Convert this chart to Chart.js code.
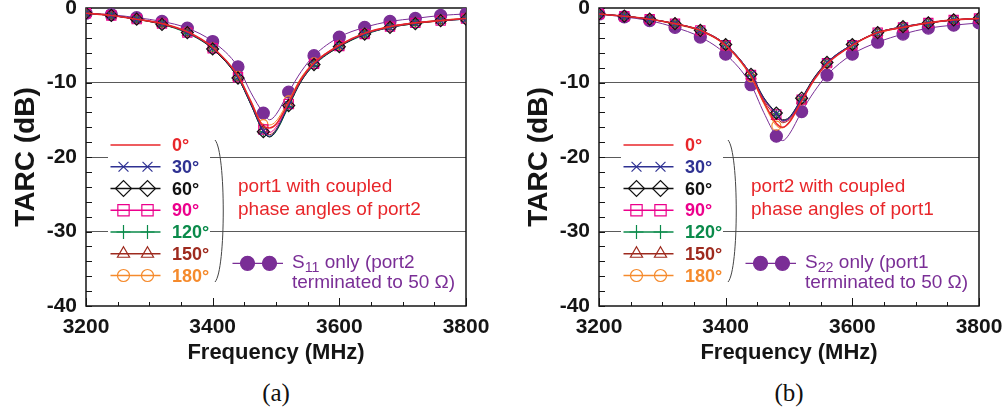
<!DOCTYPE html>
<html>
<head>
<meta charset="utf-8">
<script src="https://cdn.jsdelivr.net/npm/chart.js@4.4.1/dist/chart.umd.min.js"></script>
<style>
  body { margin:0; background:#fff; width:1007px; height:410px; overflow:hidden; position:relative;
         font-family:'Liberation Sans', Arial, sans-serif; }
  .panel { position:absolute; top:0; width:494px; height:370px; }
  .panel canvas { position:absolute; left:0; top:0; }
  .lab { position:absolute; left:172px; font-weight:bold; font-size:18px; line-height:18px;
         transform:translateY(-50%); white-space:nowrap; }
  .note { position:absolute; font-size:19px; line-height:23px; white-space:nowrap; color:#e8262a; }
  .only { position:absolute; font-size:19px; line-height:20px; white-space:nowrap; color:#7a2e96; }
  .only sub { font-size:0.75em; line-height:0; vertical-align:-0.3em; }
  .cap { position:absolute; top:379px; width:60px; text-align:center;
         font-family:'Liberation Serif', 'Times New Roman', serif; font-size:25px; color:#111; }
</style>
</head>
<body>
<div class="panel" id="pa" style="left:0"><canvas id="chartA" width="494" height="370"></canvas></div>
<div class="panel" id="pb" style="left:513px"><canvas id="chartB" width="494" height="370"></canvas></div>
<div class="cap" style="left:246px">(a)</div>
<div class="cap" style="left:759px">(b)</div>

<script>
// ── data ───────────────────────────────────────────────────
const freq = [3200, 3240, 3280, 3320, 3360, 3400, 3440, 3460, 3480, 3490,
              3500, 3520, 3540, 3560, 3600, 3640, 3680, 3720, 3760, 3800];
const phaseLabels = ['0°', '30°', '60°', '90°', '120°', '150°', '180°'];
const xLabelTicks = [3200, 3400, 3600, 3800];
const yLabelTicks = [0, -10, -20, -30, -40];

// (a) port1, coupled phase angles of port2
const a0   = [-0.7,-1.0,-1.5,-2.1,-3.2,-5.3,-9.1,-12.5,-15.9,-16.1,-15.6,-12.7,-9.5,-7.4,-5.0,-3.4,-2.5,-2.0,-1.7,-1.4];
const a30  = [-0.7,-1.0,-1.5,-2.1,-3.3,-5.4,-9.3,-12.8,-16.5,-17.2,-16.4,-13.0,-9.7,-7.6,-5.1,-3.5,-2.6,-2.0,-1.7,-1.5];
const a60  = [-0.7,-1.0,-1.5,-2.2,-3.3,-5.5,-9.4,-12.9,-16.6,-17.3,-16.5,-13.1,-9.8,-7.6,-5.2,-3.5,-2.6,-2.1,-1.7,-1.5];
const a90  = [-0.7,-1.0,-1.5,-2.1,-3.3,-5.4,-9.3,-12.7,-16.3,-16.7,-16.0,-12.9,-9.6,-7.5,-5.1,-3.5,-2.5,-2.0,-1.7,-1.4];
const a120 = [-0.7,-1.0,-1.5,-2.2,-3.4,-5.5,-9.4,-12.9,-16.6,-17.3,-16.6,-13.2,-9.8,-7.7,-5.2,-3.6,-2.6,-2.1,-1.7,-1.5];
const a150 = [-0.7,-1.0,-1.5,-2.1,-3.3,-5.4,-9.3,-12.8,-16.4,-17.0,-16.3,-13.0,-9.6,-7.5,-5.1,-3.5,-2.5,-2.0,-1.7,-1.4];
const a180 = [-0.7,-1.0,-1.5,-2.1,-3.2,-5.3,-9.1,-12.4,-15.6,-15.7,-15.2,-12.4,-9.3,-7.3,-5.0,-3.4,-2.5,-2.0,-1.6,-1.4];
const s11  = [-0.7,-0.9,-1.3,-1.8,-2.7,-4.5,-7.9,-11.3,-14.1,-15.0,-14.3,-11.3,-8.5,-6.4,-3.9,-2.6,-1.8,-1.4,-1.0,-0.8];

// (b) port2, coupled phase angles of port1
const b0   = [-0.8,-1.1,-1.5,-2.1,-3.0,-5.0,-9.1,-12.6,-15.5,-16.0,-15.4,-12.5,-9.6,-7.5,-5.0,-3.3,-2.6,-2.0,-1.6,-1.4];
const b30  = [-0.8,-1.1,-1.5,-2.1,-3.0,-4.9,-8.9,-12.1,-14.2,-15.1,-14.8,-12.2,-9.4,-7.3,-4.9,-3.3,-2.5,-2.0,-1.6,-1.4];
const b60  = [-0.8,-1.1,-1.5,-2.1,-3.0,-4.9,-8.9,-12.0,-14.1,-15.0,-14.7,-12.1,-9.3,-7.3,-4.9,-3.3,-2.5,-2.0,-1.6,-1.4];
const b90  = [-0.8,-1.1,-1.5,-2.1,-3.0,-5.0,-9.0,-12.2,-14.3,-15.2,-14.9,-12.3,-9.4,-7.4,-5.0,-3.3,-2.6,-2.0,-1.6,-1.4];
const b120 = [-0.8,-1.1,-1.5,-2.1,-3.0,-5.0,-9.0,-12.2,-14.2,-15.2,-14.8,-12.2,-9.4,-7.4,-5.0,-3.3,-2.6,-2.0,-1.6,-1.4];
const b150 = [-0.8,-1.1,-1.5,-2.1,-3.1,-5.0,-9.1,-12.4,-14.6,-15.4,-15.0,-12.4,-9.5,-7.4,-5.0,-3.3,-2.6,-2.0,-1.6,-1.4];
const b180 = [-0.8,-1.1,-1.5,-2.2,-3.1,-5.1,-9.3,-12.8,-15.8,-16.1,-15.3,-12.4,-9.5,-7.5,-5.0,-3.4,-2.6,-2.0,-1.6,-1.4];
const s22  = [-0.8,-1.2,-1.7,-2.6,-3.9,-6.2,-10.3,-14.0,-17.2,-17.8,-17.0,-13.9,-11.2,-9.0,-6.2,-4.6,-3.5,-2.7,-2.3,-2.0];

// ── styles ─────────────────────────────────────────────────
const FONT = "'Liberation Sans', Arial, sans-serif";
const INK = '#151515';
const PURPLE = '#7a2e96';
// r = marker radius on the curve, lr = radius in the legend
const phaseStyles = [
  { color:'#e8262a', style:false,      r:0,   lr:0, w:1.6 },
  { color:'#2e3192', style:'crossRot', r:5,   lr:7, w:1 },
  { color:'#111111', style:'rectRot',  r:6,   lr:8, w:1 },
  { color:'#ec008c', style:'rect',     r:6.5, lr:8, w:1 },
  { color:'#0a8a4a', style:'cross',    r:5,   lr:7, w:1 },
  { color:'#9e2a1e', style:'triangle', r:5.5, lr:7, w:1 },
  { color:'#f58a2c', style:'circle',   r:4.5, lr:6, w:1 },
];
const onlyStyle = { color:PURPLE, style:'circle', r:6, lr:7, w:1 };

function dataset(label, vals, st, filled) {
  return {
    label,
    data: freq.map((f, k) => ({ x: f, y: vals[k] })),
    borderColor: st.color,
    borderWidth: st.w,
    pointStyle: st.style || 'circle',
    pointRadius: c => (st.r && freq[c.dataIndex] % 40 === 0) ? st.r : 0,
    pointBorderColor: st.color,
    pointBackgroundColor: filled ? st.color : 'rgba(0,0,0,0)',
    pointBorderWidth: 1.2,
    cubicInterpolationMode: 'monotone',
    fill: false,
  };
}

// ── frame + inward tick marks ──────────────────────────────
const framePlugin = {
  id: 'frame',
  beforeDatasetsDraw(chart) {
    const { ctx, chartArea: a, scales: { x, y } } = chart;
    ctx.save();
    ctx.strokeStyle = INK;
    ctx.lineWidth = 1;
    ctx.beginPath();
    y.ticks.forEach(t => {
      const py = Math.round(y.getPixelForValue(t.value)) + 0.5;
      ctx.moveTo(a.left, py); ctx.lineTo(a.left + 6, py);
    });
    x.ticks.forEach(t => {
      const px = Math.round(x.getPixelForValue(t.value)) + 0.5;
      const len = xLabelTicks.includes(t.value) ? 8 : 4;
      ctx.moveTo(px, a.bottom); ctx.lineTo(px, a.bottom - len);
    });
    ctx.stroke();
    ctx.lineWidth = 1.5;
    ctx.strokeRect(a.left, a.top, a.right - a.left, a.bottom - a.top);
    ctx.restore();
  }
};

// ── legend samples (lines + markers), drawn with Chart's own point helper ──
function marker(ctx, st, x, y, filled) {
  ctx.strokeStyle = st.color;
  ctx.fillStyle = filled ? st.color : 'rgba(0,0,0,0)';
  ctx.lineWidth = 1.2;
  Chart.helpers.drawPoint(ctx, { pointStyle: st.style, radius: st.lr, rotation: 0, borderWidth: 1.2 }, x, y);
}

const legendPlugin = {
  id: 'phaseLegend',
  afterDraw(chart) {
    const { ctx, chartArea: a } = chart;
    const L = a.left;
    ctx.save();
    ctx.fillStyle = '#fff';
    ctx.fillRect(L + 22, 133, 102, 154);

    phaseStyles.forEach((st, i) => {
      const y = 145 + i * 21.75;
      ctx.strokeStyle = st.color;
      ctx.lineWidth = 1.3;
      ctx.beginPath(); ctx.moveTo(L + 24.5, y); ctx.lineTo(L + 74.5, y); ctx.stroke();
      if (st.style) { marker(ctx, st, L + 37.5, y, false); marker(ctx, st, L + 61.5, y, false); }
    });

    // bracket ")"
    ctx.strokeStyle = '#444';
    ctx.lineWidth = 1;
    ctx.beginPath();
    ctx.moveTo(L + 129, 140);
    ctx.bezierCurveTo(L + 140, 152, L + 140, 270, L + 129, 282);
    ctx.stroke();

    // single-port sample
    const yo = 263.3;
    ctx.strokeStyle = PURPLE;
    ctx.lineWidth = 1.3;
    ctx.beginPath(); ctx.moveTo(L + 146.5, yo); ctx.lineTo(L + 197, yo); ctx.stroke();
    marker(ctx, onlyStyle, L + 161.5, yo, true);
    marker(ctx, onlyStyle, L + 183.5, yo, true);
    ctx.restore();
  }
};

function makeChart(id, series, only) {
  const datasets = series.map((v, i) => dataset(phaseLabels[i], v, phaseStyles[i], false));
  datasets.push(dataset('only', only, onlyStyle, true));
  return new Chart(document.getElementById(id), {
    type: 'line',
    data: { datasets },
    options: {
      responsive: false,
      devicePixelRatio: 1,
      animation: false,
      events: [],
      layout: { padding: { top: 8, right: 28, left: 0, bottom: 0 } },
      plugins: { legend: { display: false }, tooltip: { enabled: false } },
      scales: {
        x: {
          type: 'linear', min: 3200, max: 3800,
          grid: { display: false },
          border: { display: false },
          ticks: {
            stepSize: 50, autoSkip: false, maxRotation: 0, padding: 1, color: INK,
            font: { family: FONT, size: 21, weight: 'bold' },
            callback: v => xLabelTicks.includes(v) ? String(v) : '',
          },
          title: { display: true, text: 'Frequency (MHz)', color: INK,
                   font: { family: FONT, size: 22, weight: 'bold' }, padding: { top: 0, bottom: 4 } },
          afterFit: s => { s.height = 64; },
        },
        y: {
          min: -40, max: 0,
          grid: {
            drawTicks: false, lineWidth: 1,
            color: c => (c.tick && c.tick.value % 10 === 0 && c.tick.value > -40 && c.tick.value < 0) ? '#5a5a5a' : 'rgba(0,0,0,0)',
          },
          border: { display: false },
          ticks: {
            stepSize: 2, autoSkip: false, padding: 9, color: INK,
            font: { family: FONT, size: 21, weight: 'bold' },
            callback: v => yLabelTicks.includes(v) ? String(v) : '',
          },
          title: { display: true, text: 'TARC (dB)', color: INK,
                   font: { family: FONT, size: 28, weight: 'bold' }, padding: { top: 9, bottom: 0 } },
          afterFit: s => { s.width = 86; s.paddingTop = 0; s.paddingBottom = 0; },
        },
      },
    },
    plugins: [framePlugin, legendPlugin],
  });
}

makeChart('chartA', [a0, a30, a60, a90, a120, a150, a180], s11);
makeChart('chartB', [b0, b30, b60, b90, b120, b150, b180], s22);

// ── legend texts ───────────────────────────────────────────
function addTexts(panelId, port, other, sParam) {
  const p = document.getElementById(panelId);
  phaseLabels.forEach((t, i) => {
    const d = document.createElement('div');
    d.className = 'lab';
    d.style.top = (145 + i * 21.75) + 'px';
    d.style.color = phaseStyles[i].color;
    d.textContent = t;
    p.appendChild(d);
  });
  const n = document.createElement('div');
  n.className = 'note';
  n.style.left = '238px'; n.style.top = '173.5px';
  n.innerHTML = port + ' with coupled<br>phase angles of ' + other;
  p.appendChild(n);
  const o = document.createElement('div');
  o.className = 'only';
  o.style.left = '292px'; o.style.top = '251.5px';
  o.innerHTML = 'S<sub>' + sParam + '</sub> only (' + other + '<br>terminated to 50 Ω)';
  p.appendChild(o);
}
addTexts('pa', 'port1', 'port2', '11');
addTexts('pb', 'port2', 'port1', '22');
</script>
</body>
</html>
